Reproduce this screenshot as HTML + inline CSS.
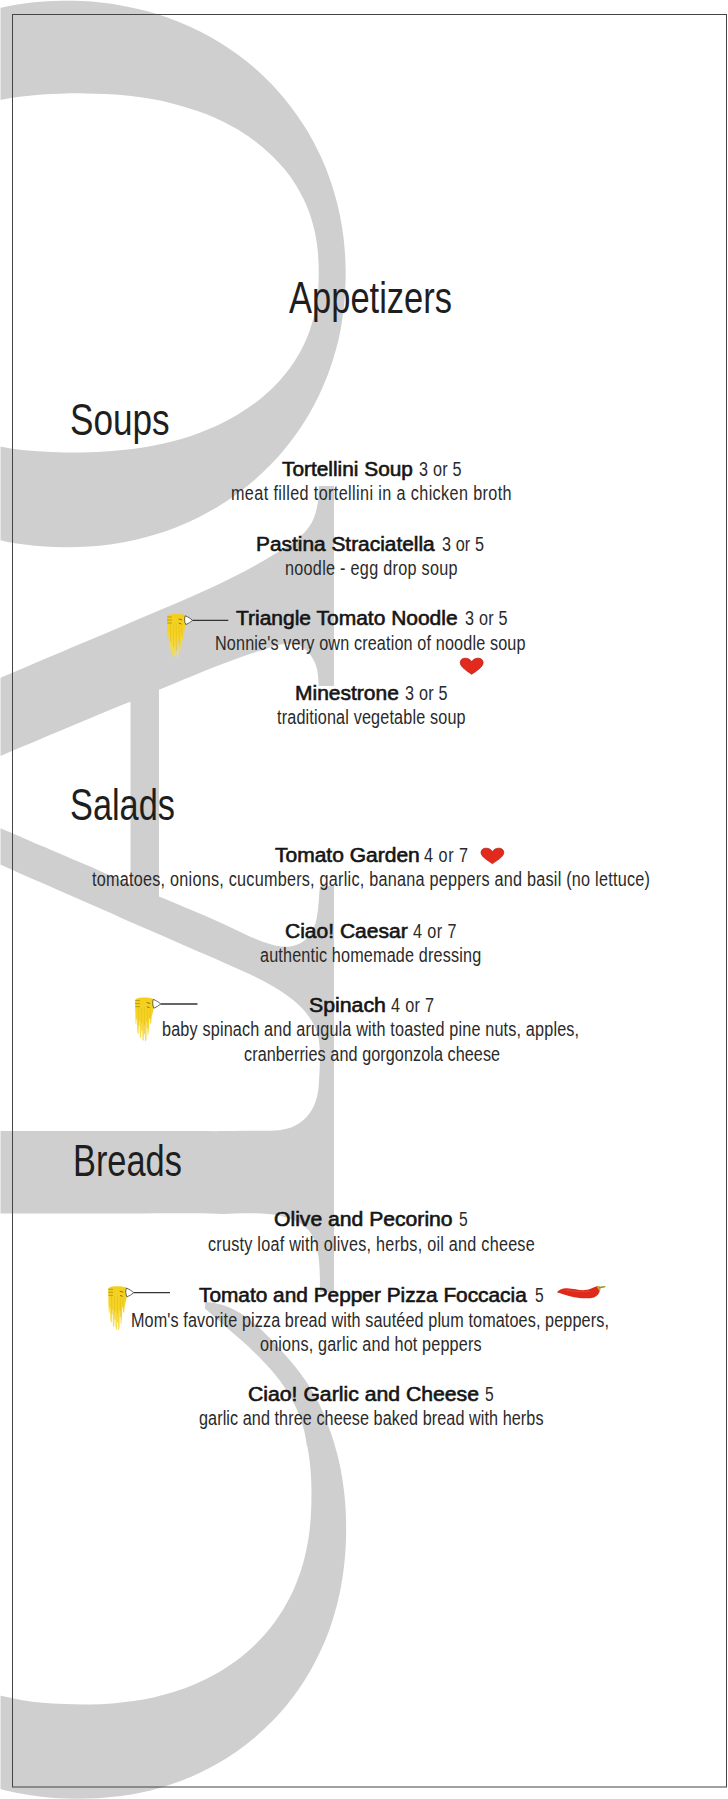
<!DOCTYPE html>
<html><head><meta charset="utf-8"><title>Appetizers</title>
<style>
html,body{margin:0;padding:0;background:#fff}
#pg{position:relative;width:728px;height:1799px;overflow:hidden;background:#fff;font-family:"Liberation Sans",sans-serif;color:#1c1c1c}
#pg svg{position:absolute;left:0;top:0}
.t{position:absolute;white-space:nowrap;transform-origin:0 0;display:block}
.h{font-size:45px;line-height:45px;font-weight:400;color:#1e1e1e}
.b{font-size:20px;line-height:20px;font-weight:400;color:#151515;-webkit-text-stroke:0.6px #151515}
.r{font-size:19.5px;line-height:19.5px;font-weight:400;color:#2a2a2a}
</style></head><body>
<div id="pg">
<svg width="728" height="1799" viewBox="0 0 728 1799">
<defs><linearGradient id="ng" x1="0" y1="0" x2="0" y2="1"><stop offset="0" stop-color="#f3cf1c"/><stop offset="0.55" stop-color="#f6d62a"/><stop offset="1" stop-color="#f9e25a"/></linearGradient></defs>
<path fill="#cfcfcf" d="M-15.6 11.7C-9 9.9 -2.4 8.3 4.3 6.9C10.9 5.6 17.5 4.4 24.2 3.6C30.7 2.7 37.2 2 43.8 1.6C50.2 1.1 56.6 0.9 63.1 0.8C69.4 0.7 75.7 0.8 82 1.1C88.2 1.4 94.4 1.8 100.5 2.5C106.6 3.1 112.6 3.9 118.6 4.9C127 6.3 135.3 8.1 143.5 10.2C151.5 12.2 159.4 14.6 167.2 17.4C174.8 20.1 182.2 23.1 189.5 26.4C196.6 29.7 203.6 33.2 210.4 37C217 40.7 223.4 44.7 229.7 49C235.8 53.1 241.7 57.5 247.4 62.1C253 66.6 258.4 71.4 263.6 76.3C268.6 81.1 273.4 86.1 278.1 91.3C282.6 96.3 286.9 101.5 291 106.9C295 112.1 298.7 117.5 302.3 123C305.8 128.3 309.1 133.8 312.2 139.4C315.1 144.9 317.9 150.4 320.6 156C324.2 163.8 327.4 171.8 330.2 179.9C332.9 187.7 335.3 195.7 337.3 203.7C339.2 211.4 340.8 219.1 342 227C343.2 234.5 344.2 242 344.7 249.6C345.3 256.9 345.6 264.2 345.7 271.5C345.7 278.5 345.5 285.5 345.1 292.5C344.8 299.2 344.1 305.9 343.3 312.6C342.5 319 341.4 325.4 340.2 331.7C339 337.8 337.6 343.8 335.9 349.8C333.7 358 331.1 366.1 328.1 374C325.3 381.5 322.1 388.8 318.7 396C315.4 402.8 311.9 409.5 308 416C304.3 422.1 300.5 428 296.4 433.8C292.5 439.3 288.4 444.6 284.1 449.7C280.1 454.6 275.9 459.3 271.5 463.8C265.6 469.9 259.4 475.8 253 481.3C247 486.4 240.9 491.2 234.5 495.7C228.7 499.8 222.7 503.7 216.6 507.4C211 510.8 205.2 513.9 199.3 516.9C191.7 520.8 183.8 524.2 175.8 527.4C168.7 530.2 161.5 532.6 154.3 534.8C147.9 536.7 141.4 538.4 134.8 539.9C126.6 541.8 118.3 543.2 109.9 544.4C103 545.4 96 546.1 89 546.5C80.6 547.1 72.3 547.3 63.9 547.2C57.6 547.2 51.3 547 44.9 546.6C38.1 546.1 31.2 545.5 24.4 544.5C18 543.7 11.6 542.6 5.3 541.4C-1.3 540 -7.9 538.4 -14.4 536.7L-13.3 443.9C-5.4 445.6 2.6 447.2 10.7 448.4C18.5 449.5 26.4 450.4 34.2 451C41.9 451.7 49.6 452 57.3 452.3C64.7 452.5 72.2 452.5 79.7 452.4C86.9 452.3 94.2 452.1 101.4 451.7C108.5 451.4 115.5 450.8 122.5 450.1C129.3 449.4 136.1 448.6 142.9 447.5C149.4 446.4 156 445.2 162.5 443.7C168.8 442.3 175.1 440.7 181.3 438.9C187.3 437.1 193.3 435.1 199.2 432.9C204.9 430.8 210.6 428.5 216.1 426C223.8 422.4 231.3 418.5 238.6 414.1C245.6 409.8 252.3 405.2 258.7 400.2C264.8 395.3 270.6 390.1 276 384.5C281.2 379 286 373.3 290.4 367.2C294.6 361.4 298.4 355.3 301.7 348.9C304.9 342.7 307.7 336.4 309.9 329.9C312.1 323.6 313.9 317.2 315.2 310.8C316.5 304.5 317.5 298.2 318 291.9C318.5 285.8 318.7 279.7 318.8 273.6C318.8 265.3 318.4 256.9 317.5 248.6C316.7 240.7 315.2 233 313.2 225.3C311.4 218.1 308.9 211.1 306 204.3C303.2 197.9 299.9 191.7 296.3 185.7C292.8 180.1 289 174.7 284.8 169.6C280.9 164.8 276.7 160.2 272.2 155.9C266.2 150.1 259.8 144.6 253 139.7C246.8 135.2 240.4 131 233.7 127.3C227.5 123.9 221.2 120.7 214.8 117.8C208.9 115.2 202.9 112.8 196.7 110.7C188.7 107.9 180.6 105.5 172.4 103.4C165.1 101.6 157.8 100 150.5 98.8C144 97.6 137.4 96.7 130.9 95.9C122.6 95 114.3 94.3 106 93.9C99.1 93.6 92.2 93.4 85.3 93.4C77 93.3 68.8 93.4 60.6 93.7C54.3 93.9 48.1 94.2 41.9 94.6C35.1 95.1 28.4 95.8 21.6 96.6C15.3 97.4 9 98.4 2.7 99.5C-3.8 100.7 -10.2 102.1 -16.7 103.7L-15.6 11.7Z"/>
<path fill="#cfcfcf" d="M205.5 1301.9C212.8 1302.4 220.2 1303.7 227 1306.4C233.1 1308.8 238.8 1312 244.2 1315.6C251 1320.3 257.2 1325.7 263.1 1331.4C268.1 1336.1 272.8 1341.1 277.4 1346.2C282.9 1352.1 288.3 1358.2 293.4 1364.5C297.3 1369.3 301.1 1374.2 304.6 1379.2C308.5 1384.7 312.1 1390.4 315.3 1396.2C318.4 1401.7 321.1 1407.4 323.5 1413.2C326.1 1419.2 328.3 1425.4 330.3 1431.6L330.2 1430.8C332.9 1438.7 335.4 1446.7 337.5 1454.9C339.4 1462.7 341.1 1470.6 342.3 1478.5C343.5 1486.2 344.5 1493.8 345.1 1501.6C345.7 1508.9 346 1516.4 346.1 1523.8C346.2 1530.9 346.1 1538 345.8 1545.1C345.5 1552 344.9 1558.8 344.1 1565.6C343.4 1572.1 342.4 1578.6 341.3 1585C340.2 1591.2 338.9 1597.4 337.3 1603.5C335.2 1611.8 332.7 1620.1 329.9 1628.2C327.1 1635.9 324.1 1643.4 320.6 1650.8C317.4 1657.7 313.9 1664.5 310.1 1671.2C306.5 1677.4 302.6 1683.5 298.5 1689.5C294.6 1695 290.5 1700.5 286.2 1705.7C282.1 1710.6 277.8 1715.4 273.4 1720.1C267.4 1726.3 261.1 1732.2 254.5 1737.7C248.4 1742.8 242.1 1747.7 235.6 1752.2C229.6 1756.3 223.5 1760.2 217.2 1763.8C211.4 1767.1 205.5 1770.1 199.4 1773C193.9 1775.6 188.3 1778 182.6 1780.2C175.1 1783.1 167.5 1785.7 159.8 1787.9C153 1789.8 146.1 1791.5 139.1 1792.9C133 1794.2 126.9 1795.2 120.7 1796C112.9 1797.1 105 1797.8 97.2 1798.3C90.6 1798.6 84.1 1798.7 77.5 1798.7C69.8 1798.7 62 1798.4 54.2 1797.9C45.8 1797.3 37.4 1796.4 29 1795.1C21.2 1793.9 13.4 1792.2 5.7 1790.4C-2.3 1788.5 -10.2 1786.1 -18 1783.4L-17.5 1690.6C-11.1 1692.6 -4.6 1694.5 2 1696.1C8.4 1697.6 14.7 1698.9 21.1 1699.9C27.3 1701 33.5 1701.8 39.7 1702.4C48.2 1703.3 56.7 1703.8 65.3 1704.1C73.3 1704.4 81.4 1704.5 89.5 1704.4C97.1 1704.3 104.6 1704 112.2 1703.4C119.4 1702.9 126.5 1702.1 133.6 1701.1C140.2 1700.1 146.9 1698.9 153.5 1697.4C159.7 1696.1 165.8 1694.4 171.9 1692.6C180.1 1690.1 188.1 1687.2 196 1683.8C203.2 1680.6 210.2 1677.1 217 1673.2C223.3 1669.7 229.4 1665.7 235.2 1661.5C240.5 1657.5 245.7 1653.4 250.5 1648.9C255 1644.8 259.3 1640.5 263.4 1636C268.7 1630.2 273.6 1623.9 278.1 1617.3C282.1 1611.5 285.6 1605.5 288.9 1599.3C291.8 1593.8 294.4 1588.1 296.6 1582.4C299.5 1575.1 302 1567.7 304 1560.2C305.6 1553.9 307 1547.5 308.1 1541.1C309.3 1533.5 310.2 1525.8 310.7 1518.1C311.3 1509.8 311.5 1501.4 311.5 1493C311.5 1485.2 311.2 1477.3 310.5 1469.5C309.9 1461.3 308.7 1453.2 307.1 1445.2L306.9 1446.4C306.1 1439.6 304.8 1432.8 302.9 1426.1C301.2 1420.2 299.1 1414.5 296.6 1408.9C293.4 1401.9 289.7 1395.1 285.5 1388.7C282 1383.4 278.1 1378.2 274 1373.3C269.2 1367.5 264 1361.9 258.6 1356.5C252.8 1350.7 246.7 1345.1 240.5 1339.6C234.7 1334.5 228.8 1329.4 222.9 1324.3C216.8 1319.1 210.7 1313.7 204.8 1308.3L205.5 1301.9Z"/>
<path fill="#cfcfcf" d="M-15 684.3C-7.8 681.3 -0.7 678.2 6.5 675.2C13.2 672.4 20 669.5 26.7 666.7C33.1 664 39.5 661.3 45.8 658.6C51.8 656.1 57.8 653.5 63.8 651C69.4 648.6 75.1 646.2 80.7 643.8C88.3 640.6 96 637.4 103.6 634.2C110.5 631.2 117.5 628.3 124.5 625.3C130.9 622.5 137.3 619.8 143.6 617.1C149.5 614.6 155.4 612.1 161.3 609.6C169 606.3 176.6 603 184.3 599.7C191.1 596.7 197.8 593.7 204.5 590.7C210.5 588 216.4 585.2 222.2 582.4C229.6 578.9 237 575.2 244.2 571.4C250.3 568.2 256.3 565 262.2 561.6C269.3 557.6 276.2 553.4 283.1 549.1C290.5 544.3 297.9 539.4 304 533C307.9 528.8 311.4 524 313.6 518.7C316.5 511.5 318 503.8 318.6 496C318.8 492.7 318.9 489.4 318.8 486.1L334 486L334 686L318.7 685.9C318.2 678.6 318.1 671 315.5 664.1C313 657.6 308.8 651.6 303.1 647.7C297.6 644.1 290.7 643.4 284.2 644.1C278 644.8 272.1 646.8 266.2 648.7C258.2 651.1 250.3 653.8 242.5 656.5C235.3 659.1 228.1 661.7 221 664.5C214.4 667 207.9 669.6 201.4 672.2C195.4 674.6 189.5 677.1 183.6 679.5C175.8 682.8 168 686.1 160.2 689.3C153.3 692.2 146.5 695.1 139.6 697.9C133.5 700.4 127.4 702.9 121.3 705.3C113.6 708.3 106 711.7 98.4 714.8C92.1 717.5 85.7 720.2 79.3 722.8C71.8 726 64.2 729.1 56.7 732.3C51 734.7 45.2 737.1 39.5 739.5C33.3 742.1 27 744.7 20.8 747.3C14.9 749.8 9.1 752.2 3.3 754.7C-2.8 757.2 -8.9 759.8 -15 762.3L-15 684.3Z"/>
<path fill="#cfcfcf" d="M130.5 690L159 690L159 905L130.5 905L130.5 690Z"/>
<path fill="#cfcfcf" d="M-15 821.5C-7.9 824.6 -0.7 827.7 6.4 830.8C13.2 833.7 19.9 836.5 26.7 839.4C33 842.2 39.3 844.9 45.7 847.6C51.7 850.2 57.7 852.8 63.6 855.3C69.3 857.7 74.9 860.2 80.5 862.6C88.1 865.8 95.7 869.1 103.3 872.4C110.3 875.3 117.3 878.3 124.1 881.4C130.5 884.3 136.8 887.1 143.2 889.9C149.1 892.4 155 894.9 160.9 897.3C168.6 900.5 176.3 903.7 184.1 906.9C190.9 909.7 197.7 912.5 204.5 915.4C210.5 918 216.4 920.6 222.4 923.4C229.8 926.8 237.2 930.4 244.6 933.9C250.8 936.9 257 939.7 263.4 942C271.1 944.7 279 946.9 287.2 946.8C296 946.6 304.5 942.1 309.8 935.1C313.3 930.5 315.3 924.8 316.5 919.2C318.1 911.6 318.6 903.8 319.1 896.1C319.3 892.7 319.6 889.4 320 886.1L334 886L334 1292L320 1292C320 1284.4 320 1276.9 319.6 1269.4C319.3 1262.3 318.6 1255.2 317 1248.3C315.4 1241.8 312.9 1235.4 308.6 1230.3C304.5 1225.5 298.9 1222.2 293.1 1219.8C285.3 1216.5 276.9 1214.7 268.4 1213.9C260.7 1213.1 252.9 1213.1 245.1 1213.2C238 1213.4 230.8 1213.7 223.7 1213.9C219.1 1213.9 214.5 1213.9 209.9 1213.6C203.8 1213.3 197.6 1213.3 191.4 1213.3C183.3 1213.3 175.2 1213.3 167.1 1213.3C160 1213.3 152.9 1213.3 145.7 1213.4C139.4 1213.4 133.1 1213.4 126.8 1213.4C118.9 1213.4 110.9 1213.4 103 1213.4C96.4 1213.4 89.8 1213.4 83.1 1213.4C75.3 1213.4 67.4 1213.4 59.6 1213.4C51.1 1213.4 42.5 1213.4 34 1213.5C26 1213.5 18 1213.5 10 1213.5C1.7 1213.5 -6.7 1213.5 -15 1213.5L-15 1131C-7.5 1131 -0.1 1131 7.4 1131C14.7 1131 21.9 1131 29.2 1131C36.3 1131 43.3 1131 50.4 1131C57.2 1131 64.1 1131 70.9 1131C77.6 1131 84.3 1131 90.9 1131C97.4 1131 103.9 1131 110.4 1131C116.7 1131 122.9 1131 129.2 1131C135.4 1131 141.5 1131 147.6 1131C156.1 1131 164.6 1131 173 1131C181.2 1131 189.3 1131 197.5 1131C205.3 1131 213.1 1131.2 220.9 1131.1C228.4 1131 235.9 1130.8 243.4 1130.7C250.6 1130.6 257.8 1130.8 265 1130.8C271.9 1130.8 278.9 1130.7 285.6 1129.1C292.1 1127.5 298.1 1124.5 303.2 1120.2C308 1116 311.8 1110.7 314.3 1104.9C316.8 1099.3 318.1 1093.2 318.6 1087.1C319.1 1081.3 319.3 1075.4 319.6 1069.6C319.9 1061.6 320.3 1053.5 319.5 1045.5C318.9 1038 317.1 1030.5 313.4 1023.8C310 1017.5 305.6 1011.8 300.6 1006.8C295.8 1002.1 290.5 997.9 285 994C279.8 990.4 274.4 987 268.9 984C261.4 979.8 253.8 976.1 246 972.5C238.9 969.3 231.7 966.1 224.6 963C218 960.1 211.4 957.2 204.8 954.3C198.8 951.7 192.8 949.1 186.7 946.4C178.8 943 170.9 939.5 163 936.1C156 933 149 930 142 926.9C135.9 924.2 129.7 921.6 123.5 918.9C115.8 915.4 108 912 100.3 908.6C93.8 905.8 87.3 903 80.9 900.1C73.2 896.7 65.5 893.4 57.9 890C52 887.4 46.2 884.9 40.4 882.3C34 879.5 27.7 876.8 21.4 874C15.4 871.4 9.5 868.8 3.6 866.1C-2.6 863.4 -8.8 860.7 -15 858L-15 821.5Z"/>
<rect x="0" y="0" width="1" height="1799" fill="#fff" opacity="0.5"/>
<path fill="#454545" fill-rule="evenodd" d="M12 14 H727 V1787.4 H12 Z M13 15 V1786.4 H726 V15 Z"/>
<g transform="translate(192.6 620.4)">
<path d="M-25.6 -3.6 C-25 -5.6 -22 -6.4 -17 -6.4 C-12 -6.4 -8.2 -6 -6.6 -4.6 L-6.4 1 C-6.8 5 -8 9 -9 13 L-9.6 19.5 L-10.6 20 L-10.9 14 L-11.4 14 L-11.8 25 L-12.4 31 L-13.2 31.5 L-13.5 18 L-14 18 L-14.2 35 L-14.9 37.4 L-15.7 37 L-16 21 L-16.5 21 L-16.8 36 L-17.6 36.8 L-18.3 35 L-18.6 19 L-19.1 19 L-19.4 33 L-20.1 34.6 L-20.9 33 L-21.2 17 L-21.7 17 L-22 29 L-22.7 30.4 L-23.4 28 L-23.7 15 L-24.1 15 L-24.5 21 L-25.1 19.5 L-25.4 9 Z" fill="url(#ng)"/>
<path d="M-22.5 2 L-21.6 22 M-19.4 4 L-18.8 27 M-16.4 3 L-16.2 30 M-13.4 5 L-13.4 24 M-10.6 3 L-11 15" stroke="#e4bb10" stroke-width="0.8" fill="none" opacity="0.7"/>
<path d="M-25.4 -3.4 H-20.8 M-25.6 -0.4 H-20.6 M-25.4 2.6 H-20.8" stroke="#b8960c" stroke-width="0.9" fill="none"/>
<path d="M-14 -1.5 L-10.5 -0.5 M-13.8 2.8 L-11.2 3.6" stroke="#8a6f10" stroke-width="1" fill="none"/>
<path d="M-7.4 -4.6 C-4.6 -3.6 -2 -1.8 0 0 C-2 1.6 -4.4 3.2 -6.8 4.2 C-8.2 1.4 -8.4 -1.8 -7.4 -4.6 Z" fill="#fff" stroke="#3c3c3c" stroke-width="0.8" stroke-linejoin="round"/>
<path d="M0 0 H35.7" stroke="#333" stroke-width="1.3"/></g><g transform="translate(160.7 1004.0)">
<path d="M-25.6 -3.6 C-25 -5.6 -22 -6.4 -17 -6.4 C-12 -6.4 -8.2 -6 -6.6 -4.6 L-6.4 1 C-6.8 5 -8 9 -9 13 L-9.6 19.5 L-10.6 20 L-10.9 14 L-11.4 14 L-11.8 25 L-12.4 31 L-13.2 31.5 L-13.5 18 L-14 18 L-14.2 35 L-14.9 37.4 L-15.7 37 L-16 21 L-16.5 21 L-16.8 36 L-17.6 36.8 L-18.3 35 L-18.6 19 L-19.1 19 L-19.4 33 L-20.1 34.6 L-20.9 33 L-21.2 17 L-21.7 17 L-22 29 L-22.7 30.4 L-23.4 28 L-23.7 15 L-24.1 15 L-24.5 21 L-25.1 19.5 L-25.4 9 Z" fill="url(#ng)"/>
<path d="M-22.5 2 L-21.6 22 M-19.4 4 L-18.8 27 M-16.4 3 L-16.2 30 M-13.4 5 L-13.4 24 M-10.6 3 L-11 15" stroke="#e4bb10" stroke-width="0.8" fill="none" opacity="0.7"/>
<path d="M-25.4 -3.4 H-20.8 M-25.6 -0.4 H-20.6 M-25.4 2.6 H-20.8" stroke="#b8960c" stroke-width="0.9" fill="none"/>
<path d="M-14 -1.5 L-10.5 -0.5 M-13.8 2.8 L-11.2 3.6" stroke="#8a6f10" stroke-width="1" fill="none"/>
<path d="M-7.4 -4.6 C-4.6 -3.6 -2 -1.8 0 0 C-2 1.6 -4.4 3.2 -6.8 4.2 C-8.2 1.4 -8.4 -1.8 -7.4 -4.6 Z" fill="#fff" stroke="#3c3c3c" stroke-width="0.8" stroke-linejoin="round"/>
<path d="M0 0 H36.8" stroke="#333" stroke-width="1.3"/></g><g transform="translate(133.8 1292.7)">
<path d="M-25.6 -3.6 C-25 -5.6 -22 -6.4 -17 -6.4 C-12 -6.4 -8.2 -6 -6.6 -4.6 L-6.4 1 C-6.8 5 -8 9 -9 13 L-9.6 19.5 L-10.6 20 L-10.9 14 L-11.4 14 L-11.8 25 L-12.4 31 L-13.2 31.5 L-13.5 18 L-14 18 L-14.2 35 L-14.9 37.4 L-15.7 37 L-16 21 L-16.5 21 L-16.8 36 L-17.6 36.8 L-18.3 35 L-18.6 19 L-19.1 19 L-19.4 33 L-20.1 34.6 L-20.9 33 L-21.2 17 L-21.7 17 L-22 29 L-22.7 30.4 L-23.4 28 L-23.7 15 L-24.1 15 L-24.5 21 L-25.1 19.5 L-25.4 9 Z" fill="url(#ng)"/>
<path d="M-22.5 2 L-21.6 22 M-19.4 4 L-18.8 27 M-16.4 3 L-16.2 30 M-13.4 5 L-13.4 24 M-10.6 3 L-11 15" stroke="#e4bb10" stroke-width="0.8" fill="none" opacity="0.7"/>
<path d="M-25.4 -3.4 H-20.8 M-25.6 -0.4 H-20.6 M-25.4 2.6 H-20.8" stroke="#b8960c" stroke-width="0.9" fill="none"/>
<path d="M-14 -1.5 L-10.5 -0.5 M-13.8 2.8 L-11.2 3.6" stroke="#8a6f10" stroke-width="1" fill="none"/>
<path d="M-7.4 -4.6 C-4.6 -3.6 -2 -1.8 0 0 C-2 1.6 -4.4 3.2 -6.8 4.2 C-8.2 1.4 -8.4 -1.8 -7.4 -4.6 Z" fill="#fff" stroke="#3c3c3c" stroke-width="0.8" stroke-linejoin="round"/>
<path d="M0 0 H36.2" stroke="#333" stroke-width="1.3"/></g><path transform="translate(471.7 666.25) scale(0.967 0.971)" fill="#e3281c" stroke="#b31d18" stroke-width="0.8" d="M0 8.3 C-4 5.3 -11.8 1 -11.8 -3.6 C-11.8 -6.9 -9.4 -8.3 -6.6 -8.3 C-3.6 -8.3 -1 -6.8 0 -4.4 C1 -6.8 3.6 -8.3 6.6 -8.3 C9.4 -8.3 11.8 -6.9 11.8 -3.6 C11.8 1 4 5.3 0 8.3 Z"/><path transform="translate(492.4 855.95) scale(0.963 0.935)" fill="#e3281c" stroke="#b31d18" stroke-width="0.8" d="M0 8.3 C-4 5.3 -11.8 1 -11.8 -3.6 C-11.8 -6.9 -9.4 -8.3 -6.6 -8.3 C-3.6 -8.3 -1 -6.8 0 -4.4 C1 -6.8 3.6 -8.3 6.6 -8.3 C9.4 -8.3 11.8 -6.9 11.8 -3.6 C11.8 1 4 5.3 0 8.3 Z"/><path d="M556.8 1292.3 C559.6 1289.6 563 1288 567 1288.3 C574 1288.8 580 1290.6 585 1290.1 C590 1289.6 594 1287 597.4 1286 C599.6 1285.7 600.4 1287.5 600.1 1289.5 C599.6 1293 597.8 1296 594 1297.5 C588 1298.9 580 1298.4 573 1296.9 C566 1295.4 561 1293.6 556.8 1292.3 Z" fill="#de2a1a"/>
<path d="M566 1290.2 C574 1291.2 582 1292.6 590 1291.2" stroke="#f04a34" stroke-width="1" fill="none" opacity="0.7"/>
<path d="M596.6 1286.4 C598.2 1285.6 599.8 1286 600.4 1287.6 C600.8 1289 600.4 1290.4 599.6 1291.4 C598.6 1289.8 597.6 1288 596.6 1286.4 Z" fill="#c9a83a"/>
<path d="M599.8 1287.6 C601.6 1287.3 603.2 1286.9 604.8 1286.6" stroke="#7f9430" stroke-width="1.3" fill="none" stroke-linecap="round"/>
</svg>
<span class="t h" style="left:288.70px;top:275.21px;transform:scaleX(0.7669)">Appetizers</span>
<span class="t h" style="left:70.34px;top:396.91px;transform:scaleX(0.7809)">Soups</span>
<span class="t h" style="left:70.37px;top:781.91px;transform:scaleX(0.7629)">Salads</span>
<span class="t h" style="left:73.01px;top:1138.41px;transform:scaleX(0.7633)">Breads</span>
<span class="t b" style="left:281.81px;top:459.07px;transform:scaleX(1.0420)">Tortellini Soup</span>
<span class="t r" style="left:418.80px;top:460.09px;transform:scaleX(0.8300);letter-spacing:0.285px">3 or 5</span>
<span class="t r" style="left:230.97px;top:484.34px;transform:scaleX(0.8300);letter-spacing:0.459px">meat filled tortellini in a chicken broth</span>
<span class="t b" style="left:256.37px;top:534.07px;transform:scaleX(1.0438)">Pastina Straciatella</span>
<span class="t r" style="left:441.60px;top:535.09px;transform:scaleX(0.8300);letter-spacing:0.141px">3 or 5</span>
<span class="t r" style="left:285.17px;top:559.09px;transform:scaleX(0.8300);letter-spacing:0.346px">noodle - egg drop soup</span>
<span class="t b" style="left:235.51px;top:608.47px;transform:scaleX(1.0492)">Triangle Tomato Noodle</span>
<span class="t r" style="left:464.50px;top:609.49px;transform:scaleX(0.8300);letter-spacing:0.261px">3 or 5</span>
<span class="t r" style="left:215.17px;top:633.89px;transform:scaleX(0.8300);letter-spacing:0.181px">Nonnie's very own creation of noodle soup</span>
<span class="t b" style="left:294.57px;top:682.87px;transform:scaleX(1.0497)">Minestrone</span>
<span class="t r" style="left:404.50px;top:683.89px;transform:scaleX(0.8300);letter-spacing:0.285px">3 or 5</span>
<span class="t r" style="left:276.90px;top:708.09px;transform:scaleX(0.8300);letter-spacing:0.198px">traditional vegetable soup</span>
<span class="t b" style="left:275.22px;top:845.07px;transform:scaleX(1.0500)">Tomato Garden</span>
<span class="t r" style="left:424.40px;top:846.09px;transform:scaleX(0.8300);letter-spacing:0.654px">4 or 7</span>
<span class="t r" style="left:92.40px;top:870.49px;transform:scaleX(0.8300);letter-spacing:0.299px">tomatoes, onions, cucumbers, garlic, banana peppers and basil (no lettuce)</span>
<span class="t b" style="left:284.66px;top:920.57px;transform:scaleX(1.0509)">Ciao! Caesar</span>
<span class="t r" style="left:413.20px;top:921.59px;transform:scaleX(0.8300);letter-spacing:0.509px">4 or 7</span>
<span class="t r" style="left:260.30px;top:945.79px;transform:scaleX(0.8300);letter-spacing:0.203px">authentic homemade dressing</span>
<span class="t b" style="left:308.72px;top:994.77px;transform:scaleX(1.0634)">Spinach</span>
<span class="t r" style="left:390.70px;top:995.79px;transform:scaleX(0.8300);letter-spacing:0.413px">4 or 7</span>
<span class="t r" style="left:162.07px;top:1020.49px;transform:scaleX(0.8300);letter-spacing:0.208px">baby spinach and arugula with toasted pine nuts, apples,</span>
<span class="t r" style="left:243.60px;top:1045.29px;transform:scaleX(0.8300);letter-spacing:0.089px">cranberries and gorgonzola cheese</span>
<span class="t b" style="left:274.42px;top:1209.47px;transform:scaleX(1.0569)">Olive and Pecorino</span>
<span class="t r" style="left:459.14px;top:1210.49px;transform:scaleX(0.8000)">5</span>
<span class="t r" style="left:207.90px;top:1235.39px;transform:scaleX(0.8300);letter-spacing:0.293px">crusty loaf with olives, herbs, oil and cheese</span>
<span class="t b" style="left:198.61px;top:1285.07px;transform:scaleX(1.0418)">Tomato and Pepper Pizza Foccacia</span>
<span class="t r" style="left:534.84px;top:1286.09px;transform:scaleX(0.8000)">5</span>
<span class="t r" style="left:130.67px;top:1310.69px;transform:scaleX(0.8300);letter-spacing:0.136px">Mom's favorite pizza bread with sautéed plum tomatoes, peppers,</span>
<span class="t r" style="left:259.50px;top:1335.09px;transform:scaleX(0.8300);letter-spacing:0.197px">onions, garlic and hot peppers</span>
<span class="t b" style="left:247.76px;top:1383.67px;transform:scaleX(1.0600)">Ciao! Garlic and Cheese</span>
<span class="t r" style="left:484.84px;top:1384.69px;transform:scaleX(0.8000)">5</span>
<span class="t r" style="left:198.80px;top:1408.89px;transform:scaleX(0.8300);letter-spacing:0.094px">garlic and three cheese baked bread with herbs</span>
</div>
</body></html>
